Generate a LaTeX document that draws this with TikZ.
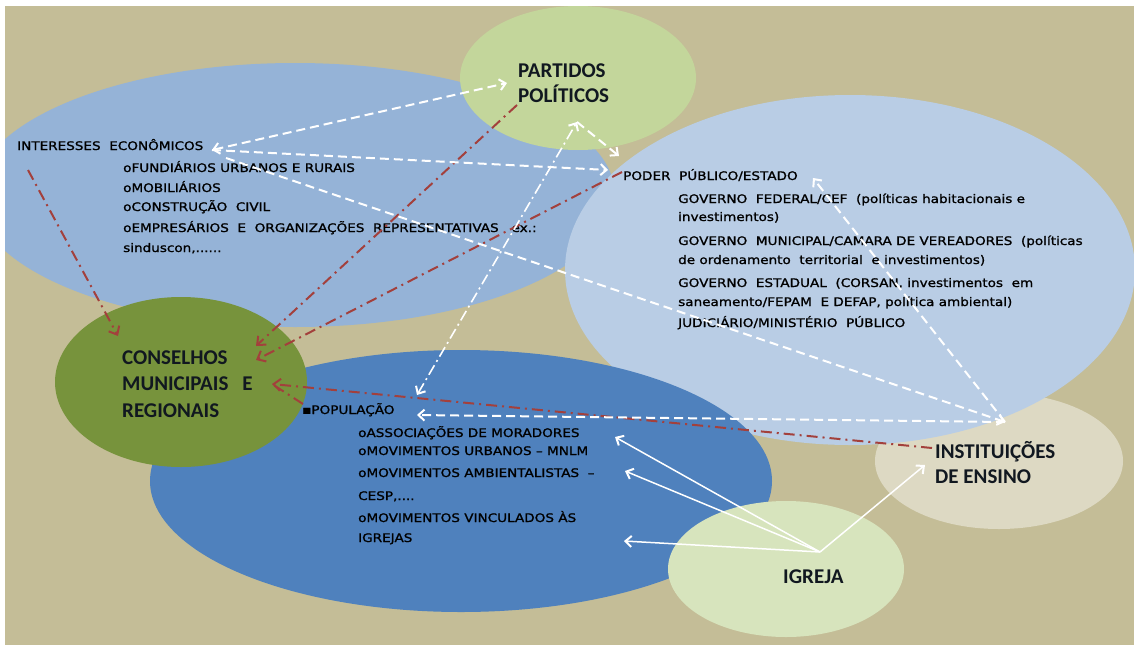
\documentclass[tikz,border=0pt]{standalone}
\usepackage{fontspec}
\usetikzlibrary{arrows.meta}
\newfontfamily\smallf[FakeStretch=1.15,FakeBold=1.2]{DejaVu Sans}
\newfontfamily\bigf{Carlito}
\definecolor{bgtan}{HTML}{C4BD97}
\definecolor{cinter}{HTML}{95B3D7}
\definecolor{cpart}{HTML}{C3D69B}
\definecolor{cpoder}{HTML}{B9CDE5}
\definecolor{ccons}{HTML}{77933C}
\definecolor{cpop}{HTML}{4F81BD}
\definecolor{cinst}{HTML}{DDD9C3}
\definecolor{cigr}{HTML}{D7E4BD}
\definecolor{cred}{HTML}{A3403C}
\definecolor{ctxt}{HTML}{111820}
\tikzset{
  lbl/.style={inner sep=0pt, anchor=base west, text=black, font=\smallf\fontsize{11.8}{14}\selectfont},
  biglbl/.style={inner sep=0pt, anchor=base west, text=ctxt, font=\bigf\bfseries\fontsize{21}{25}\selectfont},
  wdash/.style={white, line width=2pt, dash pattern=on 9pt off 5pt},
  wdashdot/.style={white, line width=1.6pt, dash pattern=on 11pt off 4pt on 2pt off 4pt},
  wsolid/.style={white, line width=1.5pt},
  rdd/.style={cred, line width=2pt, dash pattern=on 11pt off 5pt on 2pt off 5pt},
  wtip/.style={-{Straight Barb[length=6pt,width=11pt,line width=2pt]}},
  wtips/.style={{Straight Barb[length=6pt,width=11pt,line width=2pt]}-{Straight Barb[length=6pt,width=11pt,line width=2pt]}},
  rtip/.style={-{Straight Barb[length=7pt,width=12pt,line width=2pt]}},
}
\begin{document}
\begin{tikzpicture}[x=1pt,y=-1pt]
\useasboundingbox (0,0) rectangle (1134,645);
\fill[white] (0,0) rectangle (1134,645);
\begin{scope}
\clip (5,6) rectangle (1134,645);
\fill[bgtan] (5,6) rectangle (1134,645);
\fill[cinter] (295,195) ellipse [x radius=320pt, y radius=132pt];
\fill[cpart] (578,78) ellipse [x radius=118pt, y radius=72pt];
\fill[cinst] (999,461) ellipse [x radius=124pt, y radius=68pt];
\fill[cpoder] (850,270) ellipse [x radius=285pt, y radius=175pt];
\fill[cpop] (461,481) ellipse [x radius=311pt, y radius=131pt];
\fill[ccons] (181,382) ellipse [x radius=126pt, y radius=85pt];
\fill[cigr] (786,569) ellipse [x radius=118pt, y radius=68pt];
\end{scope}

% big labels
\node[biglbl] (pa1) at (518,77) {PARTIDOS};
\node[biglbl] (pa2) at (518,102) {POLÍTICOS};
\node[biglbl] (co1) at (122,364) {CONSELHOS};
\node[biglbl] (co2) at (122,390) {MUNICIPAIS\hspace{14pt}E};
\node[biglbl] (co3) at (122,417) {REGIONAIS};
\node[biglbl] (in1) at (935,458) {INSTITUIÇÕES};
\node[biglbl] (in2) at (935,483) {DE ENSINO};
\node[biglbl] (ig1) at (783,583) {IGREJA};

% interesses
\node[lbl] (ie0) at (17,150) {INTERESSES~ ECONÔMICOS};
\node[lbl] (ie1) at (123,172) {oFUNDIÁRIOS URBANOS E RURAIS};
\node[lbl] (ie2) at (123,192) {oMOBILIÁRIOS};
\node[lbl] (ie3) at (123,211) {oCONSTRUÇÃO~ CIVIL};
\node[lbl] (ie4) at (123,232) {oEMPRESÁRIOS~ E~ ORGANIZAÇÕES~ REPRESENTATIVAS~~ ex.:};
\node[lbl] (ie5) at (123,252) {sinduscon,......};

% poder
\node[lbl] (po0) at (623,180) {PODER~ PÚBLICO/ESTADO};
\node[lbl] (po1) at (678,203) {GOVERNO~ FEDERAL/CEF~ (políticas habitacionais e};
\node[lbl] (po2) at (678,221) {investimentos)};
\node[lbl] (po3) at (678,245) {GOVERNO~ MUNICIPAL/CAMARA DE VEREADORES~ (políticas};
\node[lbl] (po4) at (678,264) {de ordenamento~ territorial~ e investimentos)};
\node[lbl] (po5) at (678,287) {GOVERNO~ ESTADUAL~ (CORSAN, investimentos~ em};
\node[lbl] (po6) at (678,306) {saneamento/FEPAM~ E DEFAP, política ambiental)};
\node[lbl] (po7) at (678,327) {JUDICIÁRIO/MINISTÉRIO~ PÚBLICO};

% populacao
\node[lbl] (pp0) at (302,414) {▪POPULAÇÃO};
\node[lbl] (pp1) at (358,437) {oASSOCIAÇÕES DE MORADORES};
\node[lbl] (pp2) at (358,455) {oMOVIMENTOS URBANOS – MNLM};
\node[lbl] (pp3) at (358,477) {oMOVIMENTOS AMBIENTALISTAS~ –};
\node[lbl] (pp4) at (358,500) {CESP,....};
\node[lbl] (pp5) at (358,522) {oMOVIMENTOS VINCULADOS ÀS};
\node[lbl] (pp6) at (358,542) {IGREJAS};

% connector end points
\coordinate (ieA) at (212,150);
\coordinate (paA) at (507,83);
\coordinate (poA) at (608,170);
\coordinate (ieB) at (226,158);
\coordinate (inA) at (1005,422);
\coordinate (poB) at (813,178);
\coordinate (ppA) at (417,415);
\coordinate (ppB) at (417,395);
\coordinate (paB) at (577,122);
\coordinate (poC) at (619,156);
\coordinate (igA) at (820,552);
\coordinate (ppC) at (615,437);
\coordinate (ppD) at (625,471);
\coordinate (ppE) at (624,541);
\coordinate (inB) at (925,465);
\coordinate (ieR) at (28,170);
\coordinate (coA) at (118,336);
\coordinate (paR) at (517,105);
\coordinate (coB) at (256,346);
\coordinate (poR) at (622,172);
\coordinate (coC) at (256,360);
\coordinate (inR) at (932,448);
\coordinate (coD) at (272,384);
\coordinate (ppR) at (303,404);

% red dash-dot arrows
\draw[rdd,rtip] (ieR) -- (coA);
\draw[rdd,rtip] (paR) -- (coB);
\draw[rdd,rtip] (poR) -- (coC);
\draw[rdd,rtip] (inR) -- (coD);
\draw[rdd] (ppR) -- (coD);

% white dashed arrows
\draw[wdash,wtips] (ieA) -- (paA);
\draw[wdash,wtip] (ieA) -- (poA);
\draw[wdash,wtip] (ieB) -- (inA);
\draw[wdash,wtip] (inA) -- (poB);
\draw[wdash,wtip] (inA) -- (ppA);
\draw[wdashdot,wtips] (ppB) -- (paB);
\draw[wdash,wtip] (paB) -- (poC);

% white solid arrows from igreja
\draw[wsolid,wtip] (igA) -- (ppC);
\draw[wsolid,wtip] (igA) -- (ppD);
\draw[wsolid,wtip] (igA) -- (ppE);
\draw[wsolid,wtip] (igA) -- (inB);
\end{tikzpicture}
\end{document}
